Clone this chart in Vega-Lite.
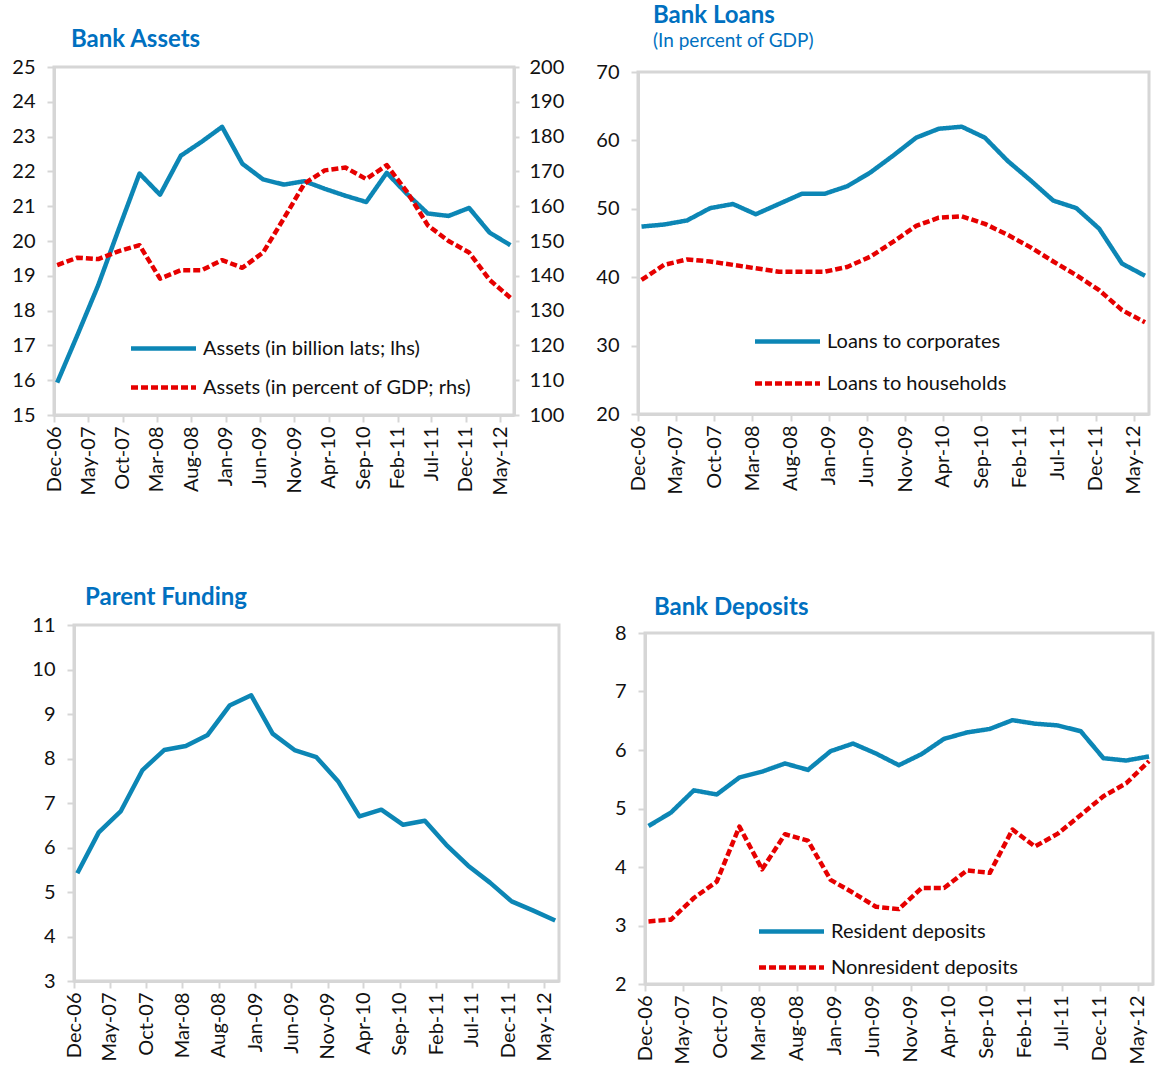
{
 "$schema": "https://vega.github.io/schema/vega-lite/v6.json",
 "background": "white",
 "padding": {"left": 9, "top": 1, "right": 0, "bottom": 0},
 "datasets": {
  "assets": [
   {"d":"2006-12-15","s":"Assets (in billion lats; lhs)","v":15.93},{"d":"2007-03-15","s":"Assets (in billion lats; lhs)","v":17.3},{"d":"2007-06-15","s":"Assets (in billion lats; lhs)","v":18.73},{"d":"2007-09-15","s":"Assets (in billion lats; lhs)","v":20.36},{"d":"2007-12-15","s":"Assets (in billion lats; lhs)","v":21.94},{"d":"2008-03-15","s":"Assets (in billion lats; lhs)","v":21.33},{"d":"2008-06-15","s":"Assets (in billion lats; lhs)","v":22.45},{"d":"2008-09-15","s":"Assets (in billion lats; lhs)","v":22.85},{"d":"2008-12-15","s":"Assets (in billion lats; lhs)","v":23.28},{"d":"2009-03-15","s":"Assets (in billion lats; lhs)","v":22.22},{"d":"2009-06-15","s":"Assets (in billion lats; lhs)","v":21.77},{"d":"2009-09-15","s":"Assets (in billion lats; lhs)","v":21.62},{"d":"2009-12-15","s":"Assets (in billion lats; lhs)","v":21.72},{"d":"2010-03-15","s":"Assets (in billion lats; lhs)","v":21.5},{"d":"2010-06-15","s":"Assets (in billion lats; lhs)","v":21.3},{"d":"2010-09-15","s":"Assets (in billion lats; lhs)","v":21.12},{"d":"2010-12-15","s":"Assets (in billion lats; lhs)","v":21.96},{"d":"2011-03-15","s":"Assets (in billion lats; lhs)","v":21.35},{"d":"2011-06-15","s":"Assets (in billion lats; lhs)","v":20.79},{"d":"2011-09-15","s":"Assets (in billion lats; lhs)","v":20.72},{"d":"2011-12-15","s":"Assets (in billion lats; lhs)","v":20.95},{"d":"2012-03-15","s":"Assets (in billion lats; lhs)","v":20.24},{"d":"2012-06-15","s":"Assets (in billion lats; lhs)","v":19.88},
   {"d":"2006-12-15","s":"Assets (in percent of GDP; rhs)","v":143.1},{"d":"2007-03-15","s":"Assets (in percent of GDP; rhs)","v":145.2},{"d":"2007-06-15","s":"Assets (in percent of GDP; rhs)","v":144.8},{"d":"2007-09-15","s":"Assets (in percent of GDP; rhs)","v":147.1},{"d":"2007-12-15","s":"Assets (in percent of GDP; rhs)","v":148.8},{"d":"2008-03-15","s":"Assets (in percent of GDP; rhs)","v":139.2},{"d":"2008-06-15","s":"Assets (in percent of GDP; rhs)","v":141.6},{"d":"2008-09-15","s":"Assets (in percent of GDP; rhs)","v":141.6},{"d":"2008-12-15","s":"Assets (in percent of GDP; rhs)","v":144.5},{"d":"2009-03-15","s":"Assets (in percent of GDP; rhs)","v":142.3},{"d":"2009-06-15","s":"Assets (in percent of GDP; rhs)","v":146.7},{"d":"2009-09-15","s":"Assets (in percent of GDP; rhs)","v":156.5},{"d":"2009-12-15","s":"Assets (in percent of GDP; rhs)","v":166.5},{"d":"2010-03-15","s":"Assets (in percent of GDP; rhs)","v":170.3},{"d":"2010-06-15","s":"Assets (in percent of GDP; rhs)","v":171.1},{"d":"2010-09-15","s":"Assets (in percent of GDP; rhs)","v":167.8},{"d":"2010-12-15","s":"Assets (in percent of GDP; rhs)","v":171.8},{"d":"2011-03-15","s":"Assets (in percent of GDP; rhs)","v":164.1},{"d":"2011-06-15","s":"Assets (in percent of GDP; rhs)","v":154.5},{"d":"2011-09-15","s":"Assets (in percent of GDP; rhs)","v":150.0},{"d":"2011-12-15","s":"Assets (in percent of GDP; rhs)","v":146.7},{"d":"2012-03-15","s":"Assets (in percent of GDP; rhs)","v":138.8},{"d":"2012-06-15","s":"Assets (in percent of GDP; rhs)","v":133.7}
  ],
  "loans": [
   {"d":"2006-12-15","s":"Loans to corporates","v":47.4},{"d":"2007-03-15","s":"Loans to corporates","v":47.7},{"d":"2007-06-15","s":"Loans to corporates","v":48.3},{"d":"2007-09-15","s":"Loans to corporates","v":50.1},{"d":"2007-12-15","s":"Loans to corporates","v":50.7},{"d":"2008-03-15","s":"Loans to corporates","v":49.2},{"d":"2008-06-15","s":"Loans to corporates","v":50.7},{"d":"2008-09-15","s":"Loans to corporates","v":52.2},{"d":"2008-12-15","s":"Loans to corporates","v":52.2},{"d":"2009-03-15","s":"Loans to corporates","v":53.3},{"d":"2009-06-15","s":"Loans to corporates","v":55.3},{"d":"2009-09-15","s":"Loans to corporates","v":57.8},{"d":"2009-12-15","s":"Loans to corporates","v":60.4},{"d":"2010-03-15","s":"Loans to corporates","v":61.7},{"d":"2010-06-15","s":"Loans to corporates","v":62.0},{"d":"2010-09-15","s":"Loans to corporates","v":60.4},{"d":"2010-12-15","s":"Loans to corporates","v":57.0},{"d":"2011-03-15","s":"Loans to corporates","v":54.2},{"d":"2011-06-15","s":"Loans to corporates","v":51.2},{"d":"2011-09-15","s":"Loans to corporates","v":50.1},{"d":"2011-12-15","s":"Loans to corporates","v":47.1},{"d":"2012-03-15","s":"Loans to corporates","v":42.0},{"d":"2012-06-15","s":"Loans to corporates","v":40.2},
   {"d":"2006-12-15","s":"Loans to households","v":39.6},{"d":"2007-03-15","s":"Loans to households","v":41.8},{"d":"2007-06-15","s":"Loans to households","v":42.6},{"d":"2007-09-15","s":"Loans to households","v":42.3},{"d":"2007-12-15","s":"Loans to households","v":41.8},{"d":"2008-03-15","s":"Loans to households","v":41.3},{"d":"2008-06-15","s":"Loans to households","v":40.8},{"d":"2008-09-15","s":"Loans to households","v":40.8},{"d":"2008-12-15","s":"Loans to households","v":40.8},{"d":"2009-03-15","s":"Loans to households","v":41.5},{"d":"2009-06-15","s":"Loans to households","v":43.0},{"d":"2009-09-15","s":"Loans to households","v":45.2},{"d":"2009-12-15","s":"Loans to households","v":47.5},{"d":"2010-03-15","s":"Loans to households","v":48.7},{"d":"2010-06-15","s":"Loans to households","v":48.9},{"d":"2010-09-15","s":"Loans to households","v":47.8},{"d":"2010-12-15","s":"Loans to households","v":46.2},{"d":"2011-03-15","s":"Loans to households","v":44.4},{"d":"2011-06-15","s":"Loans to households","v":42.3},{"d":"2011-09-15","s":"Loans to households","v":40.3},{"d":"2011-12-15","s":"Loans to households","v":38.1},{"d":"2012-03-15","s":"Loans to households","v":35.2},{"d":"2012-06-15","s":"Loans to households","v":33.4}
  ],
  "parent": [
   {"d":"2006-12-15","v":5.42},{"d":"2007-03-15","v":6.34},{"d":"2007-06-15","v":6.81},{"d":"2007-09-15","v":7.74},{"d":"2007-12-15","v":8.19},{"d":"2008-03-15","v":8.28},{"d":"2008-06-15","v":8.53},{"d":"2008-09-15","v":9.19},{"d":"2008-12-15","v":9.42},{"d":"2009-03-15","v":8.56},{"d":"2009-06-15","v":8.19},{"d":"2009-09-15","v":8.03},{"d":"2009-12-15","v":7.49},{"d":"2010-03-15","v":6.70},{"d":"2010-06-15","v":6.85},{"d":"2010-09-15","v":6.51},{"d":"2010-12-15","v":6.60},{"d":"2011-03-15","v":6.06},{"d":"2011-06-15","v":5.59},{"d":"2011-09-15","v":5.21},{"d":"2011-12-15","v":4.79},{"d":"2012-03-15","v":4.58},{"d":"2012-06-15","v":4.36}
  ],
  "deposits": [
   {"d":"2006-12-15","s":"Resident deposits","v":4.70},{"d":"2007-03-15","s":"Resident deposits","v":4.93},{"d":"2007-06-15","s":"Resident deposits","v":5.31},{"d":"2007-09-15","s":"Resident deposits","v":5.24},{"d":"2007-12-15","s":"Resident deposits","v":5.53},{"d":"2008-03-15","s":"Resident deposits","v":5.63},{"d":"2008-06-15","s":"Resident deposits","v":5.77},{"d":"2008-09-15","s":"Resident deposits","v":5.66},{"d":"2008-12-15","s":"Resident deposits","v":5.98},{"d":"2009-03-15","s":"Resident deposits","v":6.11},{"d":"2009-06-15","s":"Resident deposits","v":5.94},{"d":"2009-09-15","s":"Resident deposits","v":5.74},{"d":"2009-12-15","s":"Resident deposits","v":5.93},{"d":"2010-03-15","s":"Resident deposits","v":6.19},{"d":"2010-06-15","s":"Resident deposits","v":6.30},{"d":"2010-09-15","s":"Resident deposits","v":6.36},{"d":"2010-12-15","s":"Resident deposits","v":6.51},{"d":"2011-03-15","s":"Resident deposits","v":6.45},{"d":"2011-06-15","s":"Resident deposits","v":6.42},{"d":"2011-09-15","s":"Resident deposits","v":6.32},{"d":"2011-12-15","s":"Resident deposits","v":5.86},{"d":"2012-03-15","s":"Resident deposits","v":5.82},{"d":"2012-06-15","s":"Resident deposits","v":5.89},
   {"d":"2006-12-15","s":"Nonresident deposits","v":3.07},{"d":"2007-03-15","s":"Nonresident deposits","v":3.10},{"d":"2007-06-15","s":"Nonresident deposits","v":3.47},{"d":"2007-09-15","s":"Nonresident deposits","v":3.75},{"d":"2007-12-15","s":"Nonresident deposits","v":4.69},{"d":"2008-03-15","s":"Nonresident deposits","v":3.96},{"d":"2008-06-15","s":"Nonresident deposits","v":4.56},{"d":"2008-09-15","s":"Nonresident deposits","v":4.45},{"d":"2008-12-15","s":"Nonresident deposits","v":3.78},{"d":"2009-03-15","s":"Nonresident deposits","v":3.56},{"d":"2009-06-15","s":"Nonresident deposits","v":3.32},{"d":"2009-09-15","s":"Nonresident deposits","v":3.28},{"d":"2009-12-15","s":"Nonresident deposits","v":3.64},{"d":"2010-03-15","s":"Nonresident deposits","v":3.64},{"d":"2010-06-15","s":"Nonresident deposits","v":3.94},{"d":"2010-09-15","s":"Nonresident deposits","v":3.90},{"d":"2010-12-15","s":"Nonresident deposits","v":4.64},{"d":"2011-03-15","s":"Nonresident deposits","v":4.35},{"d":"2011-06-15","s":"Nonresident deposits","v":4.57},{"d":"2011-09-15","s":"Nonresident deposits","v":4.89},{"d":"2011-12-15","s":"Nonresident deposits","v":5.21},{"d":"2012-03-15","s":"Nonresident deposits","v":5.43},{"d":"2012-06-15","s":"Nonresident deposits","v":5.81}
  ],
  "none": []
 },
 "config": {
  "view": {"stroke": "#D6D6D6", "strokeWidth": 3},
  "axis": {"grid": false, "domainColor": "#D6D6D6", "domainWidth": 3, "tickColor": "#D6D6D6", "tickWidth": 2, "tickSize": 7, "labelFont": "Lato", "labelFontSize": 20, "labelColor": "#111111", "labelPadding": 4, "labelOverlap": false, "labelFlush": false},
  "axisY": {"labelPadding": 12},
  "legend": {"orient": "none", "symbolType": "M-2,0H2", "symbolSize": 1056, "symbolStrokeWidth": 4.5, "labelFont": "Lato", "labelFontSize": 20, "labelColor": "#111111", "padding": 0, "labelOffset": 21, "labelLimit": 0},
  "title": {"anchor": "start", "frame": "group", "font": "Lato", "fontSize": 24, "fontWeight": "bold", "color": "#0070C0", "subtitleFont": "Lato", "subtitleFontSize": 19, "subtitleColor": "#0070C0", "subtitlePadding": 4}
 },
 "columns": 3,
 "align": "none",
 "spacing": {"row": 0, "column": 0},
 "resolve": {"scale": {"color": "independent", "strokeDash": "independent"}, "legend": {"color": "independent", "strokeDash": "independent"}},
 "concat": [
   {"width": 1, "height": 1, "view": {"stroke": null}, "data": {"name": "none"}, "mark": "point", "encoding": {}},
   {"width": 1, "height": 1, "view": {"stroke": null}, "data": {"name": "none"}, "mark": "point", "encoding": {}},
   {"width": 1, "height": 1, "view": {"stroke": null}, "data": {"name": "none"}, "mark": "point", "encoding": {}},
   {"width": 1, "height": 1, "view": {"stroke": null}, "data": {"name": "none"}, "mark": "point", "encoding": {}},
   {
    "width": 460, "height": 348,
    "title": {"text": ["", "Bank Assets"], "lineHeight": 24, "dx": 17, "offset": 5},
    "data": {"name": "assets", "format": {"parse": {"d": "date:'%Y-%m-%d'"}}},
    "layer": [
     {"transform": [{"filter": "datum.s === 'Assets (in billion lats; lhs)'"}],
      "mark": {"type": "line", "strokeWidth": 4.5, "strokeCap": "butt", "strokeJoin": "round"},
      "encoding": {
       "x": {"field": "d", "type": "temporal", "title": null,
        "scale": {"domain": [{"year": 2006, "month": 12, "date": 1}, {"year": 2012, "month": 7, "date": 1}]},
        "axis": {"format": "%b-%y", "labelAngle": 270, "labelOverlap": false, "values": [{"year":2006,"month":12,"date":1},{"year":2007,"month":5,"date":1},{"year":2007,"month":10,"date":1},{"year":2008,"month":3,"date":1},{"year":2008,"month":8,"date":1},{"year":2009,"month":1,"date":1},{"year":2009,"month":6,"date":1},{"year":2009,"month":11,"date":1},{"year":2010,"month":4,"date":1},{"year":2010,"month":9,"date":1},{"year":2011,"month":2,"date":1},{"year":2011,"month":7,"date":1},{"year":2011,"month":12,"date":1},{"year":2012,"month":5,"date":1}]}},
       "y": {"field": "v", "type": "quantitative", "title": null, "scale": {"domain": [15, 25], "nice": false}, "axis": {"orient": "left", "values": [15,16,17,18,19,20,21,22,23,24,25]}},
       "color": {"field": "s", "type": "nominal", "scale": {"domain": ["Assets (in billion lats; lhs)", "Assets (in percent of GDP; rhs)"], "range": ["#0C86B5", "#E60000"]}, "legend": {"title": null, "legendX": 91, "legendY": 263, "rowPadding": 10}},
       "strokeDash": {"field": "s", "type": "nominal", "scale": {"domain": ["Assets (in billion lats; lhs)", "Assets (in percent of GDP; rhs)"], "range": [[1, 0], [7, 3]]}, "legend": {"title": null, "legendX": 91, "legendY": 263, "rowPadding": 10}}
      }},
     {"transform": [{"filter": "datum.s === 'Assets (in percent of GDP; rhs)'"}],
      "mark": {"type": "line", "strokeWidth": 4.5, "strokeCap": "butt", "strokeJoin": "round"},
      "encoding": {
       "x": {"field": "d", "type": "temporal", "title": null,
        "scale": {"domain": [{"year": 2006, "month": 12, "date": 1}, {"year": 2012, "month": 7, "date": 1}]},
        "axis": {"format": "%b-%y", "labelAngle": 270, "labelOverlap": false, "values": [{"year":2006,"month":12,"date":1},{"year":2007,"month":5,"date":1},{"year":2007,"month":10,"date":1},{"year":2008,"month":3,"date":1},{"year":2008,"month":8,"date":1},{"year":2009,"month":1,"date":1},{"year":2009,"month":6,"date":1},{"year":2009,"month":11,"date":1},{"year":2010,"month":4,"date":1},{"year":2010,"month":9,"date":1},{"year":2011,"month":2,"date":1},{"year":2011,"month":7,"date":1},{"year":2011,"month":12,"date":1},{"year":2012,"month":5,"date":1}]}},
       "y": {"field": "v", "type": "quantitative", "title": null, "scale": {"domain": [100, 200], "nice": false}, "axis": {"orient": "right", "values": [100,110,120,130,140,150,160,170,180,190,200], "labelPadding": 10, "tickSize": 5}},
       "color": {"field": "s", "type": "nominal", "scale": {"domain": ["Assets (in billion lats; lhs)", "Assets (in percent of GDP; rhs)"], "range": ["#0C86B5", "#E60000"]}, "legend": {"title": null, "legendX": 91, "legendY": 263, "rowPadding": 10}},
       "strokeDash": {"field": "s", "type": "nominal", "scale": {"domain": ["Assets (in billion lats; lhs)", "Assets (in percent of GDP; rhs)"], "range": [[1, 0], [7, 3]]}, "legend": {"title": null, "legendX": 91, "legendY": 263, "rowPadding": 10}}
      }}
    ],
    "resolve": {"scale": {"y": "independent"}}
   },
   {
    "width": 511, "height": 342,
    "title": {"text": "Bank Loans", "subtitle": "(In percent of GDP)", "dx": 15, "offset": 11, "subtitleFontWeight": "normal"},
    "data": {"name": "loans", "format": {"parse": {"d": "date:'%Y-%m-%d'"}}},
    "mark": {"type": "line", "strokeWidth": 4.5, "strokeCap": "butt", "strokeJoin": "round"},
    "encoding": {
     "x": {"field": "d", "type": "temporal", "title": null,
      "scale": {"domain": [{"year": 2006, "month": 12, "date": 1}, {"year": 2012, "month": 7, "date": 1}]},
      "axis": {"format": "%b-%y", "labelAngle": 270, "labelOverlap": false, "values": [{"year":2006,"month":12,"date":1},{"year":2007,"month":5,"date":1},{"year":2007,"month":10,"date":1},{"year":2008,"month":3,"date":1},{"year":2008,"month":8,"date":1},{"year":2009,"month":1,"date":1},{"year":2009,"month":6,"date":1},{"year":2009,"month":11,"date":1},{"year":2010,"month":4,"date":1},{"year":2010,"month":9,"date":1},{"year":2011,"month":2,"date":1},{"year":2011,"month":7,"date":1},{"year":2011,"month":12,"date":1},{"year":2012,"month":5,"date":1}]}},
     "y": {"field": "v", "type": "quantitative", "title": " ", "scale": {"domain": [20, 70], "nice": false}, "axis": {"values": [20,30,40,50,60,70], "titlePadding": 17}},
     "color": {"field": "s", "type": "nominal", "scale": {"domain": ["Loans to corporates", "Loans to households"], "range": ["#0C86B5", "#E60000"]}, "legend": {"title": null, "legendX": 131, "legendY": 251, "rowPadding": 13}},
     "strokeDash": {"field": "s", "type": "nominal", "scale": {"domain": ["Loans to corporates", "Loans to households"], "range": [[1, 0], [7, 3]]}, "legend": {"title": null, "legendX": 131, "legendY": 251, "rowPadding": 13}}
    }
   },
   {"width": 1, "height": 1, "view": {"stroke": null}, "data": {"name": "none"}, "mark": "point", "encoding": {}},
   {
    "width": 485, "height": 356,
    "title": {"text": ["", "Parent Funding"], "lineHeight": 87, "dx": 11, "offset": 5},
    "data": {"name": "parent", "format": {"parse": {"d": "date:'%Y-%m-%d'"}}},
    "mark": {"type": "line", "strokeWidth": 4.5, "strokeCap": "butt", "strokeJoin": "round", "color": "#0C86B5"},
    "encoding": {
     "x": {"field": "d", "type": "temporal", "title": null,
      "scale": {"domain": [{"year": 2006, "month": 12, "date": 1}, {"year": 2012, "month": 7, "date": 1}]},
      "axis": {"format": "%b-%y", "labelAngle": 270, "labelOverlap": false, "values": [{"year":2006,"month":12,"date":1},{"year":2007,"month":5,"date":1},{"year":2007,"month":10,"date":1},{"year":2008,"month":3,"date":1},{"year":2008,"month":8,"date":1},{"year":2009,"month":1,"date":1},{"year":2009,"month":6,"date":1},{"year":2009,"month":11,"date":1},{"year":2010,"month":4,"date":1},{"year":2010,"month":9,"date":1},{"year":2011,"month":2,"date":1},{"year":2011,"month":7,"date":1},{"year":2011,"month":12,"date":1},{"year":2012,"month":5,"date":1}]}},
     "y": {"field": "v", "type": "quantitative", "title": " ", "scale": {"domain": [3, 11], "nice": false}, "axis": {"values": [3,4,5,6,7,8,9,10,11], "titlePadding": 9}}
    }
   },
   {
    "width": 508, "height": 351,
    "title": {"text": ["", "Bank Deposits"], "lineHeight": 92, "dx": 9, "offset": 3},
    "data": {"name": "deposits", "format": {"parse": {"d": "date:'%Y-%m-%d'"}}},
    "mark": {"type": "line", "strokeWidth": 4.5, "strokeCap": "butt", "strokeJoin": "round"},
    "encoding": {
     "x": {"field": "d", "type": "temporal", "title": null,
      "scale": {"domain": [{"year": 2006, "month": 12, "date": 1}, {"year": 2012, "month": 7, "date": 1}]},
      "axis": {"format": "%b-%y", "labelAngle": 270, "labelOverlap": false, "values": [{"year":2006,"month":12,"date":1},{"year":2007,"month":5,"date":1},{"year":2007,"month":10,"date":1},{"year":2008,"month":3,"date":1},{"year":2008,"month":8,"date":1},{"year":2009,"month":1,"date":1},{"year":2009,"month":6,"date":1},{"year":2009,"month":11,"date":1},{"year":2010,"month":4,"date":1},{"year":2010,"month":9,"date":1},{"year":2011,"month":2,"date":1},{"year":2011,"month":7,"date":1},{"year":2011,"month":12,"date":1},{"year":2012,"month":5,"date":1}]}},
     "y": {"field": "v", "type": "quantitative", "title": " ", "scale": {"domain": [2, 8], "nice": false}, "axis": {"values": [2,3,4,5,6,7,8], "titlePadding": 15}},
     "color": {"field": "s", "type": "nominal", "scale": {"domain": ["Resident deposits", "Nonresident deposits"], "range": ["#0C86B5", "#E60000"]}, "legend": {"title": null, "legendX": 128, "legendY": 280, "rowPadding": 7}},
     "strokeDash": {"field": "s", "type": "nominal", "scale": {"domain": ["Resident deposits", "Nonresident deposits"], "range": [[1, 0], [7, 3]]}, "legend": {"title": null, "legendX": 128, "legendY": 280, "rowPadding": 7}}
    }
   }
 ]
}
